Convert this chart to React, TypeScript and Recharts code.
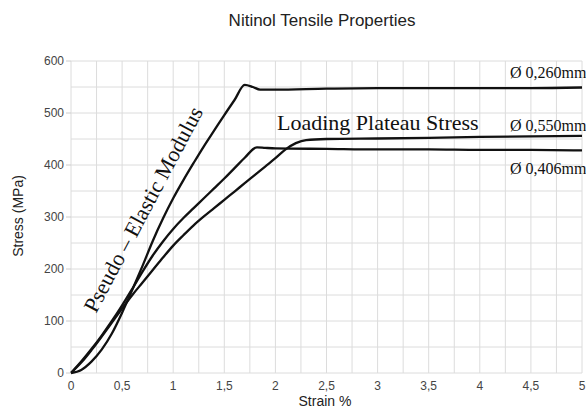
import { CartesianGrid, Line, LineChart, XAxis, YAxis } from 'recharts'

// Tensile curves for three wire diameters (strain %, stress MPa)
const strain260 = [0, 0.1, 0.2, 0.3, 0.4, 0.5, 0.6, 0.7, 0.8, 0.9, 1.0, 1.1, 1.2, 1.3, 1.4, 1.5, 1.6, 1.7, 1.78, 1.85, 2.0, 2.5, 3.0, 3.5, 4.0, 4.5, 5.0]
const stress260 = [0, 6, 22, 45, 76, 116, 160, 206, 254, 297, 336, 371, 404, 436, 466, 496, 525, 554, 550, 545, 545, 547, 548, 548, 548, 548, 549]

const strain406 = [0, 0.1, 0.2, 0.3, 0.4, 0.5, 0.6, 0.7, 0.8, 0.9, 1.0, 1.1, 1.2, 1.3, 1.4, 1.5, 1.6, 1.7, 1.82, 1.9, 2.0, 2.5, 3.0, 3.5, 4.0, 4.5, 5.0]
const stress406 = [0, 22, 46, 72, 100, 130, 162, 195, 226, 253, 277, 298, 317, 336, 355, 374, 394, 414, 434, 433, 432, 431, 430, 430, 429, 429, 428]

const strain550 = [0, 0.1, 0.2, 0.3, 0.4, 0.5, 0.6, 0.7, 0.8, 0.9, 1.0, 1.1, 1.2, 1.3, 1.4, 1.5, 1.6, 1.7, 1.8, 1.9, 2.0, 2.1, 2.2, 2.3, 2.5, 3.0, 3.5, 4.0, 4.5, 5.0]
const stress550 = [0, 20, 44, 70, 97, 124, 150, 174, 198, 222, 245, 265, 284, 301, 317, 333, 349, 365, 381, 397, 413, 430, 442, 448, 450, 451, 452, 454, 455, 456]

const xTicks = [0, 0.25, 0.5, 0.75, 1, 1.25, 1.5, 1.75, 2, 2.25, 2.5, 2.75, 3, 3.25, 3.5, 3.75, 4, 4.25, 4.5, 4.75, 5]
const yTicks = [0, 50, 100, 150, 200, 250, 300, 350, 400, 450, 500, 550, 600]

const toPoints = (xs: number[], ys: number[]) => xs.map((x, i) => ({ x, y: ys[i] }))

const series = [
  { name: 'Ø 0,260mm', data: toPoints(strain260, stress260) },
  { name: 'Ø 0,406mm', data: toPoints(strain406, stress406) },
  { name: 'Ø 0,550mm', data: toPoints(strain550, stress550) },
]

const sans = "Arial, 'Liberation Sans', sans-serif"
const serif = "'Times New Roman', 'Liberation Serif', serif"

const fmt = (v: number) => String(v).replace('.', ',')

const XTick = (props: any) => {
  const { x, y, payload } = props
  if (payload.value % 0.5 !== 0) return null
  return (
    <text x={x} y={y} dy='0.71em' textAnchor='middle' fontSize={12} fontFamily={sans} fill='#444'>
      {fmt(payload.value)}
    </text>
  )
}

const YTick = (props: any) => {
  const { x, y, payload } = props
  if (payload.value % 100 !== 0) return null
  return (
    <g>
      <line x1={x + 2} x2={x + 7} y1={y} y2={y} stroke='#ccc' />
      <text x={x} y={y} dy='0.355em' textAnchor='end' fontSize={12} fontFamily={sans} fill='#444'>
        {payload.value}
      </text>
    </g>
  )
}

export default function App() {
  return (
    <div style={{ position: 'absolute', left: 0, top: 0, width: 586, height: 409, background: '#fff' }}>
      <LineChart width={586} height={409} margin={{ top: 61, right: 4, bottom: 0, left: 0 }}>
        <CartesianGrid stroke='#dcdcdc' />
        <XAxis
          type='number'
          dataKey='x'
          domain={[0, 5]}
          ticks={xTicks}
          interval={0}
          height={36}
          axisLine={false}
          tickLine={false}
          tick={<XTick />}
        />
        <YAxis
          type='number'
          domain={[0, 600]}
          ticks={yTicks}
          interval={0}
          width={71}
          tickSize={5}
          axisLine={false}
          tickLine={false}
          tick={<YTick />}
        />
        {series.map((s) => (
          <Line
            key={s.name}
            data={s.data}
            dataKey='y'
            type='monotone'
            stroke='#111'
            strokeWidth={2.3}
            dot={false}
            isAnimationActive={false}
          />
        ))}
      </LineChart>
      <svg width={586} height={409} style={{ position: 'absolute', left: 0, top: 0, pointerEvents: 'none' }}>
        <text x={322} y={26} textAnchor='middle' fontSize={17} fontFamily={sans} fill='#222'>
          Nitinol Tensile Properties
        </text>
        <text
          x={18}
          y={216}
          transform='rotate(-90 18 216)'
          textAnchor='middle'
          dominantBaseline='central'
          fontSize={14}
          fontFamily={sans}
          fill='#222'
        >
          Stress (MPa)
        </text>
        <text x={325} y={406} textAnchor='middle' fontSize={14} fontFamily={sans} fill='#222'>
          Strain %
        </text>
        <text x={277} y={130} fontSize={22} fontFamily={serif} fill='#111'>
          Loading Plateau Stress
        </text>
        <text x={96} y={314} transform='rotate(-62 96 314)' fontSize={22} fontFamily={serif} fill='#111'>
          Pseudo – Elastic Modulus
        </text>
        <text x={510} y={78} fontSize={16} fontFamily={serif} fill='#111'>
          Ø 0,260mm
        </text>
        <text x={510} y={130.5} fontSize={16} fontFamily={serif} fill='#111'>
          Ø 0,550mm
        </text>
        <text x={510} y={173.5} fontSize={16} fontFamily={serif} fill='#111'>
          Ø 0,406mm
        </text>
      </svg>
    </div>
  )
}
